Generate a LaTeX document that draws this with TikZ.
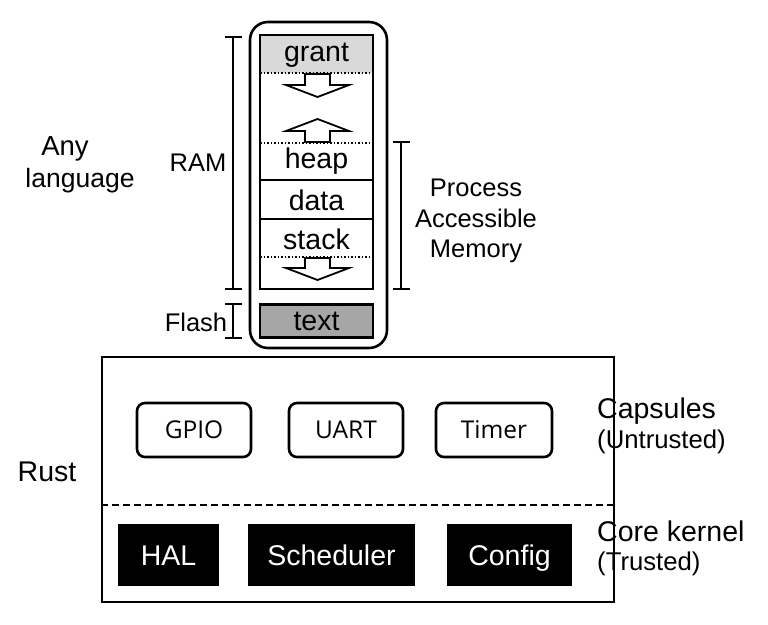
\documentclass[tikz,border=0pt]{standalone}
\usepackage{fontspec}
\setmainfont{Liberation Sans}
\newfontfamily\capfont{Open Sans}
\begin{document}
\begin{tikzpicture}[x=1pt,y=-1pt,
  lbl/.style={font=\fontsize{25.5}{28}\selectfont, inner sep=0pt},
  biglbl/.style={font=\fontsize{28.5}{30}\selectfont, inner sep=0pt},
  sublbl/.style={font=\fontsize{25.7}{28}\selectfont, inner sep=0pt},
  seg/.style={font=\fontsize{28.5}{30}\selectfont, inner sep=0pt},
  capbox/.style={draw, line width=2.6pt, rounded corners=8pt, minimum height=54pt, text height=17.5pt, text depth=0pt, font=\capfont\fontsize{24.5}{26}\selectfont},
  corebox/.style={fill=black, text=white, minimum height=62pt, text height=20.5pt, text depth=0pt, font=\fontsize{28.5}{30}\selectfont},
  memarrow/.style={draw, line width=1.8pt, fill=white, line join=miter},
  brace/.style={line width=1.5pt},
  sep/.style={dotted, line width=1.5pt}
]
\useasboundingbox (0,0) rectangle (768,624);
% process box
\node[draw, line width=2.6pt, rounded corners=18pt, minimum width=137pt, minimum height=326pt] (proc) at (318.5,185) {};
\fill[gray!30] (260,35) rectangle (373,73);
\node[draw, line width=2.4pt, minimum width=113pt, minimum height=254pt, inner sep=0pt] (ram) at (316.5,162) {};
\node[draw, line width=2.4pt, fill=gray!70, minimum width=113pt, minimum height=33pt, inner sep=0pt, seg] (text) at (316.5,321) {text};
\node[seg] (grant) at (316.5,55) {grant};
\node[seg] (heap) at (316.5,161) {heap};
\node[seg] (data) at (316.5,200) {data};
\node[seg] (stack) at (316.5,239) {stack};
\draw[sep] (260,73) -- (373,73);
\draw[sep] (260,143) -- (373,143);
\draw[sep] (260,257) -- (373,257);
\draw[line width=1.5pt] (260,180) -- (373,180);
\draw[line width=1.5pt] (260,219) -- (373,219);
% arrows
\draw[memarrow] (305,74) -- (330,74) -- (330,85) -- (349,85) -- (317.5,97) -- (286,85) -- (305,85) -- cycle;
\draw[memarrow] (305,142) -- (330,142) -- (330,131) -- (349,131) -- (317.5,119) -- (286,131) -- (305,131) -- cycle;
\draw[memarrow] (305,258) -- (330,258) -- (330,268) -- (349,268) -- (317.5,280) -- (286,268) -- (305,268) -- cycle;
% RAM bracket
\draw[brace] (233,37) -- (233,289) (225,37) -- (242,37) (225,289) -- (242,289);
\node[lbl] (ramlbl) at (198,163) {RAM};
% Flash bracket
\draw[brace] (233,304) -- (233,338) (225,304) -- (242,304) (225,338) -- (242,338);
\node[lbl] (flashlbl) at (196,322) {Flash};
% Process accessible bracket
\draw[brace] (401,142) -- (401,289) (393,142) -- (410,142) (393,289) -- (410,289);
\node[lbl, align=center, font=\fontsize{25.5}{30.5}\selectfont] (pam) at (476,221) {Process\\Accessible\\Memory};
% left labels
\node[inner sep=0pt, font=\fontsize{27.5}{30}\selectfont] (any) at (65,149) {Any};
\node[inner sep=0pt, font=\fontsize{26.5}{30}\selectfont] (lang) at (80,181) {language};
\node[biglbl] (rust) at (47,472) {Rust};
% kernel box
\node[draw, line width=2pt, minimum width=512pt, minimum height=245pt, inner sep=0pt] (kern) at (358,479.5) {};
\draw[dashed, line width=2pt, dash pattern=on 7pt off 4pt] (kern.west |- 0,505) -- (kern.east |- 0,505);
\node[capbox, minimum width=114pt] (gpio) at (194,430) {GPIO};
\node[capbox, minimum width=114pt] (uart) at (346,430) {UART};
\node[capbox, minimum width=116pt] (timer) at (494,430) {Timer};
\node[corebox, minimum width=101pt] (hal) at (168.5,555) {HAL};
\node[corebox, minimum width=167pt] (sched) at (331.5,555) {Scheduler};
\node[corebox, minimum width=125pt] (config) at (509.5,555) {Config};
% right labels
\node[biglbl, anchor=west] (caps) at (597,411) {Capsules};
\node[sublbl, anchor=west] (untr) at (597,442) {(Untrusted)};
\node[biglbl, anchor=west] (core) at (597,531) {Core kernel};
\node[sublbl, anchor=west] (tr) at (597,564) {(Trusted)};
\end{tikzpicture}
\end{document}
